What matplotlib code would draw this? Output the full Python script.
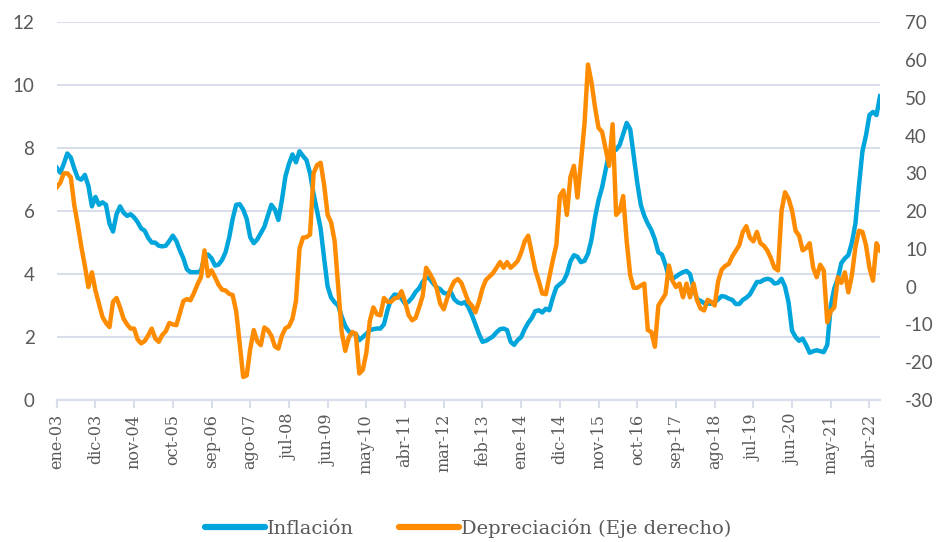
import numpy as np
import matplotlib
matplotlib.use('Agg')
import matplotlib.pyplot as plt
from matplotlib.lines import Line2D

plt.rcParams['axes.unicode_minus'] = False

# etiquetas del eje x (cada 11 meses, desde ene-03)
etiquetas = ['ene-03', 'dic-03', 'nov-04', 'oct-05', 'sep-06', 'ago-07', 'jul-08',
             'jun-09', 'may-10', 'abr-11', 'mar-12', 'feb-13', 'ene-14', 'dic-14',
             'nov-15', 'oct-16', 'sep-17', 'ago-18', 'jul-19', 'jun-20', 'may-21',
             'abr-22']

# inflación anual (%), mensual ene-03 .. jul-22
inflacion = [
    7.38, 7.22, 7.5, 7.83, 7.7, 7.35, 7.05, 7.0, 7.15, 6.8, 6.15, 6.45,
    6.2, 6.28, 6.2, 5.6, 5.35, 5.9, 6.15, 5.95, 5.85, 5.9, 5.8, 5.65,
    5.45, 5.38, 5.15, 5.0, 5.0, 4.9, 4.88, 4.9, 5.05, 5.22, 5.05, 4.75,
    4.5, 4.15, 4.06, 4.06, 4.06, 4.1, 4.55, 4.62, 4.5, 4.27, 4.3, 4.45,
    4.7, 5.15, 5.75, 6.2, 6.22, 6.05, 5.75, 5.17, 4.98, 5.1, 5.3, 5.5,
    5.85, 6.2, 6.05, 5.72, 6.35, 7.1, 7.5, 7.8, 7.55, 7.9, 7.75, 7.62,
    7.2, 6.55, 6.0, 5.45, 4.5, 3.6, 3.25, 3.1, 3.0, 2.65, 2.35, 2.18,
    2.12, 2.1, 1.9, 2.0, 2.1, 2.22, 2.25, 2.27, 2.27, 2.4, 2.85, 3.2,
    3.35, 3.33, 3.22, 3.06, 3.12, 3.25, 3.43, 3.55, 3.75, 3.9, 3.85, 3.7,
    3.58, 3.52, 3.4, 3.38, 3.43, 3.2, 3.1, 3.06, 3.11, 2.95, 2.7, 2.4,
    2.1, 1.85, 1.88, 1.95, 2.02, 2.15, 2.25, 2.27, 2.22, 1.85, 1.75, 1.9,
    2.0, 2.25, 2.45, 2.6, 2.82, 2.85, 2.78, 2.9, 2.85, 3.25, 3.58, 3.68,
    3.77, 4.0, 4.4, 4.6, 4.55, 4.38, 4.42, 4.65, 5.1, 5.8, 6.35, 6.75,
    7.3, 7.85, 7.93, 7.95, 8.1, 8.45, 8.8, 8.6, 7.75, 6.9, 6.2, 5.85,
    5.6, 5.4, 5.1, 4.69, 4.62, 4.3, 3.9, 3.85, 3.92, 4.0, 4.06, 4.1,
    4.0, 3.55, 3.2, 3.15, 3.08, 3.06, 3.06, 3.1, 3.2, 3.3, 3.28, 3.22,
    3.18, 3.05, 3.05, 3.18, 3.25, 3.35, 3.55, 3.75, 3.75, 3.82, 3.85, 3.82,
    3.7, 3.72, 3.85, 3.6, 3.1, 2.2, 2.0, 1.88, 1.95, 1.75, 1.5, 1.55,
    1.58, 1.55, 1.52, 1.75, 3.0, 3.55, 3.85, 4.35, 4.5, 4.6, 5.0, 5.6,
    6.8, 7.9, 8.4, 9.05, 9.15, 9.05, 9.65,
]

# depreciación anual (%), eje derecho
depreciacion = [
    26.3, 27.5, 30.0, 30.0, 29.0, 21.5, 16.3, 10.5, 5.5, -0.1, 3.8, -1.0,
    -4.5, -8.0, -9.6, -10.7, -4.0, -3.0, -5.5, -8.5, -10.0, -11.1, -11.1, -14.0,
    -15.0, -14.4, -12.9, -11.1, -13.7, -14.6, -12.8, -11.8, -9.6, -10.0, -10.2, -7.0,
    -3.8, -3.3, -3.6, -1.7, 0.6, 2.5, 9.6, 2.8, 4.3, 2.5, 0.5, -0.8,
    -1.0, -1.9, -2.2, -6.5, -15.0, -23.9, -23.5, -16.5, -11.5, -14.5, -15.5, -10.8,
    -11.5, -13.0, -15.8, -16.4, -13.0, -11.0, -10.5, -8.5, -3.8, 10.0, 13.0, 13.1,
    13.8, 30.0, 32.2, 32.8, 27.0, 19.0, 17.0, 12.0, 0.0, -12.0, -17.0, -13.5,
    -12.0, -12.5, -23.0, -22.0, -17.5, -9.0, -5.5, -7.3, -7.6, -3.0, -4.0, -4.0,
    -3.1, -2.9, -1.2, -4.0, -7.5, -8.9, -8.3, -5.5, -2.5, 5.0, 3.5, 1.8,
    -0.5, -4.5, -6.0, -3.0, -0.5, 1.4, 2.0, 1.0, -1.5, -4.0, -5.0, -6.8,
    -4.0, -0.5, 1.8, 2.7, 3.6, 5.0, 6.5, 5.0, 6.5, 5.0, 5.8, 6.8,
    9.0, 12.0, 13.5, 9.0, 4.5, 1.5, -1.8, -2.0, 2.5, 7.0, 11.0, 24.0,
    25.5, 19.0, 29.0, 32.0, 23.6, 33.0, 43.0, 58.8, 54.0, 47.5, 42.0, 41.0,
    36.5, 32.0, 43.0, 19.0, 20.0, 24.0, 12.0, 3.0, -0.3, -0.3, 0.3, 0.8,
    -11.5, -12.0, -15.9, -5.0, -3.5, -2.0, 5.6, 1.6, -0.1, 0.8, -2.8, 0.8,
    -2.8, 0.8, -3.6, -5.8, -6.3, -3.5, -4.0, -5.0, 1.5, 4.5, 5.5, 6.0,
    8.0, 9.5, 11.0, 14.5, 16.0, 13.0, 12.0, 14.5, 11.5, 10.8, 9.5, 7.5,
    5.0, 4.3, 20.0, 25.0, 23.3, 20.1, 14.8, 13.5, 9.6, 10.2, 11.5, 5.0,
    2.5, 5.8, 4.3, -9.4, -6.5, -5.5, 2.5, 1.0, 3.8, -1.5, 3.0, 10.4,
    14.8, 14.5, 11.0, 5.0, 1.6, 11.5, 9.6,
]

azul = '#00A5DB'
naranja = '#FF8C00'
gris_grid = '#D9DFEA'
gris_txt = '#595959'

meses = np.arange(len(inflacion))

fig = plt.figure(figsize=(9.36, 5.42), dpi=100)
ax = fig.add_axes([0.0606, 0.262, 0.8796, 0.697])
ax2 = ax.twinx()

ax.plot(meses, inflacion, color=azul, lw=3.2, solid_joinstyle='round')
ax2.plot(meses, depreciacion, color=naranja, lw=3.2, solid_joinstyle='round')

ax.set_xlim(0, len(inflacion) - 1)
ax.set_ylim(0, 12)
ax.set_yticks(range(0, 13, 2))
ax2.set_ylim(-30, 70)
ax2.set_yticks(range(-30, 71, 10))

ax.grid(axis='y', color=gris_grid, lw=1.5)
ax.set_axisbelow(True)

for a in (ax, ax2):
    for s in ['top', 'left', 'right']:
        a.spines[s].set_visible(False)
    a.spines['bottom'].set_color(gris_grid)
    a.spines['bottom'].set_linewidth(1.5)

ax.set_xticks(np.arange(0, len(inflacion), 11))
ax.set_xticklabels(etiquetas, rotation=90, family='DejaVu Serif', fontsize=11.5, color=gris_txt)
ax.tick_params(axis='x', length=6, width=1.5, color=gris_grid, pad=4)
ax.tick_params(axis='y', length=0, labelsize=13.5, labelcolor=gris_txt, pad=16)
ax2.tick_params(axis='y', length=0, labelsize=13.5, labelcolor=gris_txt, pad=18)
for lab in ax.get_yticklabels() + ax2.get_yticklabels():
    lab.set_family('Lato')

handles = [Line2D([], [], color=azul, lw=4.5, solid_capstyle='round'),
           Line2D([], [], color=naranja, lw=4.5, solid_capstyle='round')]
fig.legend(handles, ['Inflación', 'Depreciación (Eje derecho)'], loc='lower center',
           bbox_to_anchor=(0.5, -0.025), ncol=2, frameon=False, handlelength=3.1,
           handletextpad=0.1, columnspacing=2.3,
           prop={'family': 'DejaVu Serif', 'size': 14}, labelcolor=gris_txt)

fig.savefig('out.png', dpi=100)
